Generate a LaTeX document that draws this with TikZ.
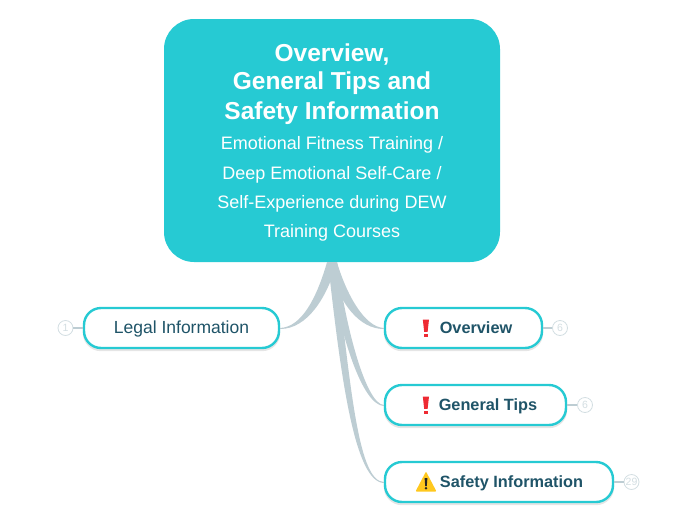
\documentclass[tikz,border=0pt]{standalone}
\usepackage{fontspec}
\setmainfont{Liberation Sans}
\definecolor{tealbox}{HTML}{26CAD3}
\definecolor{ink}{HTML}{1F5468}
\definecolor{link}{HTML}{BDCDD3}
\definecolor{ringc}{HTML}{D3DEE2}
\definecolor{alertred}{HTML}{EE2A33}
\definecolor{warny}{HTML}{FFC81E}
\tikzset{
  mainbox/.style={fill=tealbox,text=white,rounded corners=30pt,minimum width=336pt,minimum height=243pt,inner sep=0pt,align=center},
  topicbox/.style={draw=tealbox,line width=2.4pt,fill=white,rounded corners=17pt,minimum height=40pt,inner sep=0pt,text=ink,text height=13pt,text depth=3pt,font=\fontsize{17.5}{20}\selectfont,
     preaction={draw=black,draw opacity=.10,fill=none,line width=2.4pt,transform canvas={yshift=-2pt}}},
  boldtopic/.style={topicbox,font=\fontsize{16.3}{20}\selectfont\bfseries},
  taper/.style={fill=link,draw=none},
  stub/.style={draw=link,line width=1.2pt},
  ring/.style={circle,draw=ringc,fill=white,line width=.8pt,minimum size=15pt,inner sep=0pt,text=ringc,font=\fontsize{10.5}{11}\selectfont}
}
\newcommand{\ttl}{\fontsize{24.5}{29}\selectfont\bfseries}
\newcommand{\sbt}{\fontsize{18}{29}\selectfont\mdseries}
\begin{document}
\begin{tikzpicture}[x=1pt,y=-1pt]
\useasboundingbox (0,0) rectangle (697,520);
\node[mainbox] (main) at (332,140.5) {\ttl\rule{0pt}{22pt}Overview,\\[5.5pt]\ttl General Tips and\\[6pt]\ttl Safety Information\\[11.5pt]\sbt Emotional Fitness Training /\\[11.5pt]\sbt Deep Emotional Self-Care /\\[11.5pt]\sbt Self-Experience during DEW\\[11.5pt]\sbt Training Courses};
\node[topicbox,minimum width=195pt] (legal) at (181.5,328) {Legal Information};
\node[boldtopic,minimum width=157pt] (over) at (463.5,328) {\hspace*{25pt}Overview};
\node[boldtopic,minimum width=181pt] (tips) at (475.5,405) {\hspace*{25pt}General Tips};
\node[boldtopic,minimum width=228pt] (safe) at (499,482) {\hspace*{25pt}Safety Information};
\node[ring] (nlegal) at (65.5,328) {1};
\node[ring] (nover) at (560,328) {6};
\node[ring] (ntips) at (585,405) {6};
\node[ring] (nsafe) at (631.5,482) {29};
\fill[taper] ([xshift=-5pt]main.south) .. controls (317,297) and (302,327) .. (legal.east) -- ([yshift=-1pt]legal.east) .. controls (307,329) and (327,298) .. ([xshift=5pt]main.south) -- cycle;
\fill[taper] ([xshift=-4pt]main.south) .. controls (339,305) and (360,329) .. ([yshift=-1pt]over.west) -- (over.west) .. controls (364,327) and (346,293) .. ([xshift=5pt]main.south) -- cycle;
\fill[taper] ([xshift=-4pt]main.south) .. controls (340,335) and (362,405) .. ([yshift=-1pt]tips.west) -- (tips.west) .. controls (367,404) and (347,335) .. ([xshift=5pt]main.south) -- cycle;
\fill[taper] ([xshift=-4pt]main.south) .. controls (341,380) and (355,482) .. ([yshift=-1pt]safe.west) -- (safe.west) .. controls (359,481) and (351,395) .. ([xshift=4pt]main.south) -- cycle;
\draw[stub] (legal.west) -- (nlegal.east);
\draw[stub] (over.east) -- (nover.west);
\draw[stub] (tips.east) -- (ntips.west);
\draw[stub] (safe.east) -- (nsafe.west);
% icons
\fill[alertred] (422.8,319.5) -- (429,319.5) -- (427.6,331.8) -- (424.2,331.8) -- cycle;
\fill[alertred] (424,333.5) rectangle (427.8,337);
\fill[alertred] (422.8,396.5) -- (429,396.5) -- (427.6,408.8) -- (424.2,408.8) -- cycle;
\fill[alertred] (424,410.5) rectangle (427.8,414);
\fill[warny,rounded corners=1pt] (426,471.5) -- (436.5,491.5) -- (415.5,491.5) -- cycle;
\fill[black!85] (424.6,478) -- (427.4,478) -- (426.8,486) -- (425.2,486) -- cycle;
\fill[black!85] (426,488.3) circle (1.4);
\end{tikzpicture}
\end{document}
